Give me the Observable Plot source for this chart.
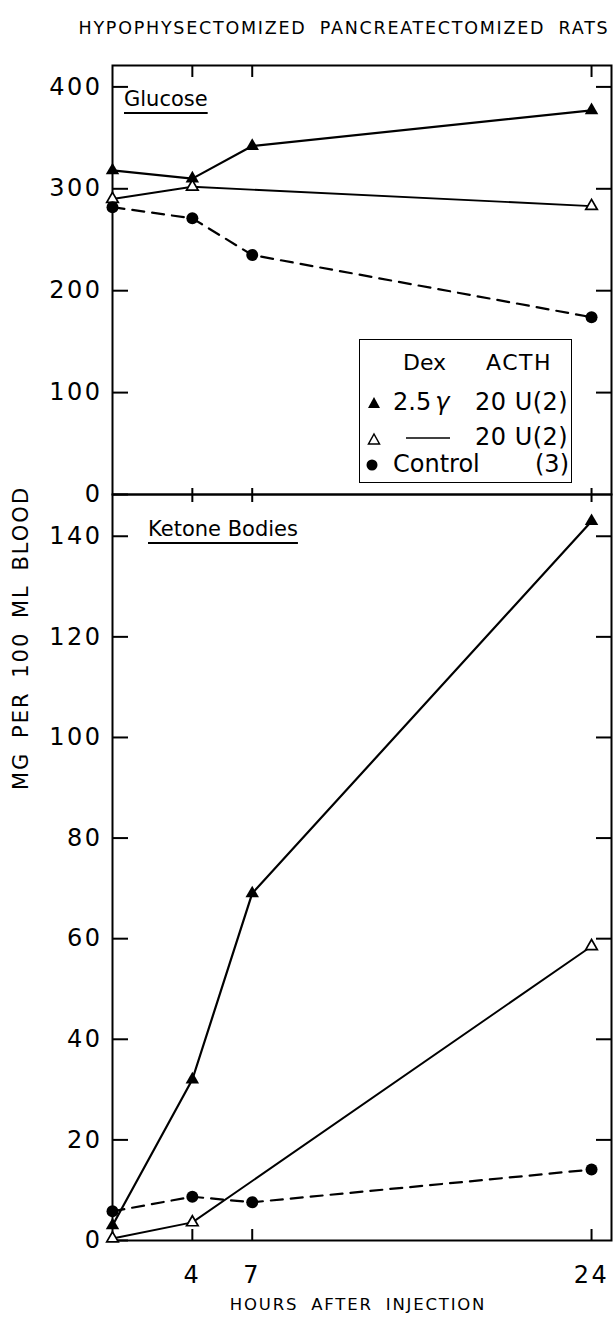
<!DOCTYPE html>
<html>
<head>
<meta charset="utf-8">
<script src="https://cdn.jsdelivr.net/npm/d3@7"></script>
<script src="https://cdn.jsdelivr.net/npm/@observablehq/plot@0.6"></script>
<style>
  html, body { margin: 0; padding: 0; background: white; }
  #wrap { position: relative; width: 615px; height: 1320px; overflow: hidden; font-family: "DejaVu Sans", sans-serif; color: black; }
  .abs { position: absolute; white-space: nowrap; }
  #top, #bottom { position: absolute; left: 0; }
  #top { top: 0; }
  #bottom { top: 494px; }
  svg { overflow: visible; }
  #top svg text, #bottom svg text { letter-spacing: 2.5px; }
  .lab { font-size: 21px; text-decoration: underline; text-underline-offset: 6px; text-decoration-thickness: 2px; }
  #legend { position: absolute; left: 359px; top: 339px; width: 211px; height: 142px; border: 1.5px solid black; background: white; font-size: 22px; }
  #legend .abs { line-height: 1; }
</style>
</head>
<body>
<div id="wrap">
  <div id="top"></div>
  <div id="bottom"></div>
  <div class="abs" id="title" style="left:344px; top:28px; font-size:17.5px; letter-spacing:1.75px; word-spacing:6px; transform: translate(-50%,-50%);">HYPOPHYSECTOMIZED PANCREATECTOMIZED RATS</div>
  <div class="abs lab" style="left:124px; top:87px;">Glucose</div>
  <div class="abs lab" style="left:148px; top:517px;">Ketone Bodies</div>
  <div class="abs" id="ylabel" style="left:21px; top:638px; font-size:21px; letter-spacing:2px; word-spacing:5px; transform: translate(-50%,-50%) rotate(-90deg);">MG PER 100 ML BLOOD</div>
  <div class="abs" id="xlabel" style="left:358px; top:1304px; font-size:16.5px; letter-spacing:1.8px; word-spacing:6px; transform: translate(-50%,-50%);">HOURS AFTER INJECTION</div>
  <div id="legend">
    <div class="abs" style="left:43px; top:12px;">Dex</div>
    <div class="abs" style="left:126px; top:12px; letter-spacing:1.5px;">ACTH</div>
    <svg class="abs" style="left:7px; top:56px;" width="14" height="14"><path d="M7,1 L13,12 L1,12 Z" fill="black"/></svg>
    <div class="abs" style="left:33px; top:50px; font-size:24px;">2.5<span style="font-style:italic; margin-left:4px;">γ</span></div>
    <div class="abs" style="left:115px; top:50px; font-size:24px; letter-spacing:0.5px;">20 U(2)</div>
    <svg class="abs" style="left:7px; top:92px;" width="14" height="14"><path d="M7,2 L12.5,12 L1.5,12 Z" fill="white" stroke="black" stroke-width="1.5"/></svg>
    <svg class="abs" style="left:46px; top:96px;" width="44" height="4"><line x1="0" y1="2" x2="44" y2="2" stroke="black" stroke-width="1.5"/></svg>
    <div class="abs" style="left:115px; top:85px; font-size:24px; letter-spacing:0.5px;">20 U(2)</div>
    <svg class="abs" style="left:5px; top:118px;" width="14" height="14"><circle cx="7" cy="7" r="5.5" fill="black"/></svg>
    <div class="abs" style="left:33px; top:112px; font-size:24px;">Control</div>
    <div class="abs" style="left:175px; top:112px; font-size:24px;">(3)</div>
  </div>
</div>
<script>
// ---- data ----
const hours = [0, 4, 7, 24];
const hoursActh = [0, 4, 24];
const glucoseDexActh = [318, 310, 342, 377];
const glucoseActh = [290, 302, 283];
const glucoseControl = [282, 271, 235, 174];
const ketoneDexActh = [3, 32, 69, 143];
const ketoneActh = [0.4, 3.6, 58.5];
const ketoneControl = [5.8, 8.7, 7.6, 14.1];
const xTicks = [4, 7, 24];
const glucoseTicks = [0, 100, 200, 300, 400];
const glucoseRightTicks = [100, 200, 300, 400];
const ketoneTicks = [0, 20, 40, 60, 80, 100, 120, 140];
const ketoneRightTicks = [20, 40, 60, 80, 100, 120, 140];

const rows = (xs, ys) => xs.map((h, i) => ({hour: h, value: ys[i]}));

const style = {fontFamily: "DejaVu Sans, sans-serif", fontSize: "24px", background: "transparent", overflow: "visible"};

function panel(o) {
  const {dex, acth, ctrl, yDomain, yTicks, yRightTicks, height, marginTop, marginBottom, topTick, bottomTick, xLabels} = o;
  const marks = [
    Plot.frame({strokeWidth: 2}),
    // tick labels
    Plot.axisY(yTicks, {anchor: "left", tickSize: 0, tickPadding: 10, fontSize: 24, label: null}),
    // inward ticks, left
    Plot.axisY(yTicks, {anchor: "right", frameAnchor: "left", tickSize: 15, strokeWidth: 2, tickFormat: () => "", label: null}),
    // inward ticks, right
    Plot.axisY(yRightTicks, {anchor: "left", frameAnchor: "right", tickSize: 15, strokeWidth: 2, tickFormat: () => "", label: null}),
    // inward ticks, top
    Plot.axisX(xTicks, {anchor: "bottom", frameAnchor: "top", tickSize: topTick, strokeWidth: 2, tickFormat: () => "", label: null}),
    // inward ticks, bottom
    Plot.axisX(xTicks, {anchor: "top", frameAnchor: "bottom", tickSize: bottomTick, strokeWidth: 2, tickFormat: () => "", label: null}),
    Plot.line(dex, {x: "hour", y: "value", stroke: "black", strokeWidth: 2.2}),
    Plot.line(acth, {x: "hour", y: "value", stroke: "black", strokeWidth: 1.9}),
    Plot.line(ctrl, {x: "hour", y: "value", stroke: "black", strokeWidth: 2.2, strokeDasharray: "12,8"}),
    Plot.dot(dex, {x: "hour", y: "value", symbol: "triangle", r: 5, fill: "black"}),
    Plot.dot(acth, {x: "hour", y: "value", symbol: "triangle", r: 4.3, fill: "white", stroke: "black", strokeWidth: 1.7}),
    Plot.dot(ctrl, {x: "hour", y: "value", r: 6, fill: "black"})
  ];
  if (xLabels) marks.push(Plot.axisX(xTicks, {anchor: "bottom", tickSize: 0, tickPadding: 25, fontSize: 24, label: null}));
  return Plot.plot({
    width: 615,
    height,
    marginLeft: 112,
    marginRight: 4,
    marginTop,
    marginBottom,
    style,
    x: {domain: [0, 25]},
    y: {domain: yDomain},
    marks
  });
}

document.getElementById("top").append(panel({
  dex: rows(hours, glucoseDexActh),
  acth: rows(hoursActh, glucoseActh),
  ctrl: rows(hours, glucoseControl),
  yDomain: [0, 421], yTicks: glucoseTicks, yRightTicks: glucoseRightTicks,
  height: 495, marginTop: 65, marginBottom: 1, topTick: 12, bottomTick: 7, xLabels: false
}));

document.getElementById("bottom").append(panel({
  dex: rows(hours, ketoneDexActh),
  acth: rows(hoursActh, ketoneActh),
  ctrl: rows(hours, ketoneControl),
  yDomain: [0, 148.3], yTicks: ketoneTicks, yRightTicks: ketoneRightTicks,
  height: 826, marginTop: 0, marginBottom: 80, topTick: 8, bottomTick: 12, xLabels: true
}));
</script>
</body>
</html>
